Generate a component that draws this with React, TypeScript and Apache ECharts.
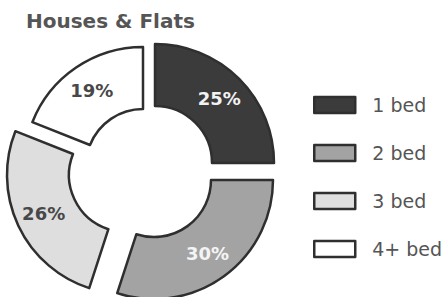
import React, { useEffect, useRef } from 'react';
import * as echarts from 'echarts';

const title = 'Houses & Flats';
const categories = ['1 bed', '2 bed', '3 bed', '4+ bed'];
const shares = [25, 30, 26, 19];

// styles (not data)
const fills = ['#3b3b3b', '#a3a3a3', '#dedede', '#ffffff'];
const labelColors = ['#f2f2f2', '#f4f4f4', '#484848', '#484848'];
const sliceCenters = [
  [155, 163],
  [154, 180],
  [126, 175],
  [143, 166],
];
const edge = '#2f2f2f';

export default function App() {
  const ref = useRef<HTMLDivElement>(null);
  useEffect(() => {
    document.body.style.margin = '0';
    const chart = echarts.init(ref.current!, null, { renderer: 'svg' });
    const series = categories.map((cat, k) => ({
      type: 'pie',
      center: sliceCenters[k],
      radius: [57, 119],
      startAngle: 90,
      clockwise: true,
      silent: true,
      avoidLabelOverlap: false,
      emphasis: { disabled: true },
      data: shares.map((v, i) =>
        i === k
          ? {
              name: cat,
              value: v,
              itemStyle: { color: fills[i], borderColor: edge, borderWidth: 2.5 },
              label: {
                show: true,
                position: 'inside',
                formatter: '{c}%',
                fontFamily: 'DejaVu Sans',
                fontWeight: 'bold',
                fontSize: 18,
                color: labelColors[i],
              },
              labelLine: { show: false },
            }
          : {
              name: '',
              value: v,
              itemStyle: { color: 'rgba(0,0,0,0)', borderWidth: 0 },
              label: { show: false },
              labelLine: { show: false },
            }
      ),
    }));
    chart.setOption({
      animation: false,
      backgroundColor: '#ffffff',
      title: {
        text: title,
        left: 26,
        top: 11,
        padding: 0,
        textStyle: { fontFamily: 'DejaVu Sans', fontWeight: 'bold', fontSize: 20, color: '#555555' },
      },
      legend: {
        orient: 'vertical',
        left: 313,
        top: 95,
        padding: 0,
        data: categories,
        icon: 'rect',
        itemWidth: 41,
        itemHeight: 16,
        itemGap: 28,
        selectedMode: false,
        itemStyle: { borderColor: edge, borderWidth: 2.5 },
        textStyle: {
          fontFamily: 'DejaVu Sans',
          fontSize: 19,
          color: '#555555',
          lineHeight: 20,
          padding: [0, 0, 0, 12],
        },
      },
      series,
    });
    return () => chart.dispose();
  }, []);
  return <div ref={ref} style={{ width: 443, height: 297 }} />;
}
